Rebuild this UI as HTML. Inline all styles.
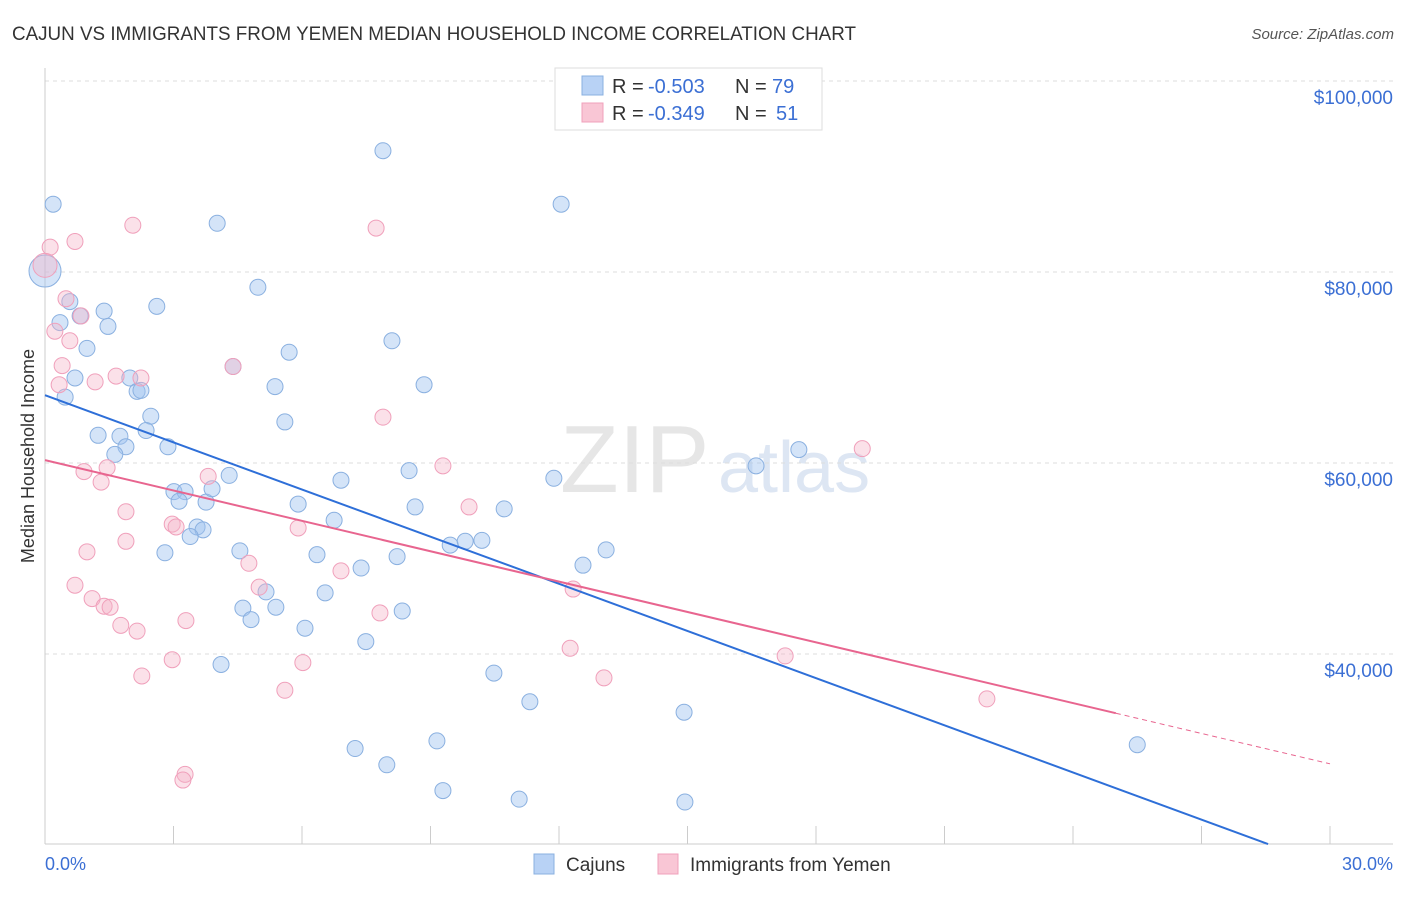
<!DOCTYPE html>
<html><head><meta charset="utf-8"><style>
body{margin:0;background:#fff;font-family:"Liberation Sans",sans-serif;}
svg text{font-family:"Liberation Sans",sans-serif;}
</style></head><body>
<svg id="c" width="1406" height="892" xmlns="http://www.w3.org/2000/svg">
<text x="12" y="40" font-size="19" fill="#333" textLength="844" lengthAdjust="spacingAndGlyphs">CAJUN VS IMMIGRANTS FROM YEMEN MEDIAN HOUSEHOLD INCOME CORRELATION CHART</text>
<text x="1394" y="39" font-size="15" fill="#555" font-style="italic" text-anchor="end">Source: ZipAtlas.com</text>
<text x="0" y="0" transform="translate(34,456) rotate(-90)" font-size="18" fill="#333" text-anchor="middle">Median Household Income</text>
<text x="560" y="492" font-size="96" fill="#e6e6e6" font-family="Liberation Serif">ZIP</text>
<text x="718" y="492" font-size="72" fill="#dde6f3">atlas</text>
<g id="grid"></g><g id="ticks"></g><g id="pts"></g><g id="lines"></g>
<g>
<rect x="555" y="68" width="267" height="62" fill="#fff" stroke="#ddd"/>
<rect x="582" y="76" width="21" height="19" fill="#b8d2f5" stroke="#8ab0e0"/>
<rect x="582" y="103" width="21" height="19" fill="#f9c6d5" stroke="#f0a0bb"/>
<text x="612" y="93" font-size="20" fill="#333">R =</text>
<text x="648" y="93" font-size="20" fill="#3b6fd4">-0.503</text>
<text x="735" y="93" font-size="20" fill="#333">N =</text>
<text x="772" y="93" font-size="20" fill="#3b6fd4">79</text>
<text x="612" y="120" font-size="20" fill="#333">R =</text>
<text x="648" y="120" font-size="20" fill="#3b6fd4">-0.349</text>
<text x="735" y="120" font-size="20" fill="#333">N =</text>
<text x="776" y="120" font-size="20" fill="#3b6fd4">51</text>
</g>
<g>
<rect x="534" y="854" width="20" height="20" fill="#b8d2f5" stroke="#8ab0e0"/>
<text x="566" y="871" font-size="19" fill="#333">Cajuns</text>
<rect x="658" y="854" width="20" height="20" fill="#f9c6d5" stroke="#f0a0bb"/>
<text x="690" y="871" font-size="19" fill="#333">Immigrants from Yemen</text>
</g>
<text x="45" y="870" font-size="18" fill="#3b6fd4">0.0%</text>
<text x="1393" y="870" font-size="18" fill="#3b6fd4" text-anchor="end">30.0%</text>
</svg>
<script>
const yTicks=[40000,60000,80000,100000];
const yTickLabels=["$40,000","$60,000","$80,000","$100,000"];
const xTicks=[0,3,6,9,12,15,18,21,24,27,30];
const cajunX=[0.19,4.02,7.89,12.05,4.97,2.61,0.58,0.35,1.38,1.47,0.82,0.98,5.70,8.10,4.39,0.70,0.47,1.98,2.15,2.24,5.37,8.85,2.47,1.24,1.75,2.36,1.89,1.63,2.87,5.60,17.60,16.60,4.30,6.91,8.50,11.88,3.01,3.27,3.13,3.76,3.90,5.91,8.64,10.72,6.75,3.55,3.69,3.39,9.46,9.81,10.20,13.10,2.80,4.55,6.35,8.22,7.38,12.56,5.16,6.54,4.62,5.39,8.34,4.81,6.07,7.49,4.11,10.48,11.32,14.92,7.24,9.15,7.98,25.50,9.29,11.07,14.94,0];
const cajunY=[87.1,85.1,92.7,87.1,78.4,76.4,76.9,74.7,75.9,74.3,75.4,72.0,71.6,72.8,70.1,68.9,66.9,68.9,67.5,67.6,68.0,68.2,64.9,62.9,62.8,63.4,61.7,60.9,61.7,64.3,61.4,59.7,58.7,58.2,59.2,58.4,57.0,57.0,56.0,55.9,57.3,55.7,55.4,55.2,54.0,53.3,53.0,52.3,51.4,51.8,51.9,50.9,50.6,50.8,50.4,50.2,49.0,49.3,46.5,46.4,44.8,44.9,44.5,43.6,42.7,41.3,38.9,38.0,35.0,33.9,30.1,30.9,28.4,30.5,25.7,24.8,24.5,80.1];
const yemenX=[0.12,0.70,2.05,7.73,0.49,0.23,0.58,0.84,0.40,0.33,1.17,1.66,2.24,4.39,7.89,19.08,9.29,0.91,1.45,1.31,3.81,9.90,1.89,2.97,3.06,5.91,1.89,0.98,4.76,6.91,0.70,5.00,12.33,1.10,1.38,1.52,1.77,2.15,3.29,7.82,12.26,17.28,2.97,6.02,2.26,13.05,5.60,21.99,3.27,3.22,0];
const yemenY=[82.6,83.2,84.9,84.6,77.2,73.8,72.8,75.4,70.2,68.2,68.5,69.1,68.9,70.1,64.8,61.5,59.7,59.1,59.5,58.0,58.6,55.4,54.9,53.6,53.3,53.2,51.8,50.7,49.5,48.7,47.2,47.0,46.8,45.8,45.0,44.9,43.0,42.4,43.5,44.3,40.6,39.8,39.4,39.1,37.7,37.5,36.2,35.3,27.4,26.8,80.7];
const cajunTrend=[67.1,-1.646];
const yemenTrend=[60.3,-1.06];
const X=v=>45+v*1285/30;
const Y=v=>654-(v*1000-40000)*191/20000;
const NS="http://www.w3.org/2000/svg";
function mk(p,t,a){const e=document.createElementNS(NS,t);for(const k in a)e.setAttribute(k,a[k]);document.getElementById(p).appendChild(e);return e;}
yTicks.forEach((t,i)=>{const y=Y(t/1000);
const l=mk('grid','line',{x1:45,x2:1393,y1:y,y2:y,stroke:'#ddd','stroke-dasharray':'4,4'});


const tx=mk('grid','text',{x:1393,y:y+23,'font-size':19,fill:'#3b6fd4','text-anchor':'end'});tx.textContent=yTickLabels[i];

});
const ax=mk('ticks','line',{x1:45,x2:1393,y1:844,y2:844,stroke:'#ccc'});


const ay=mk('ticks','line',{x1:45,x2:45,y1:68,y2:844,stroke:'#ccc'});


xTicks.forEach(t=>{const x=X(t);const l=mk('ticks','line',{x1:x,x2:x,y1:826,y2:844,stroke:'#ccc'});

});
cajunX.forEach((x,i)=>{const big=i===cajunX.length-1;
const c=mk('pts','circle',{cx:X(x),cy:Y(cajunY[i]),r:big?16:8,fill:'rgba(160,195,240,0.45)',stroke:'#8ab0e0','stroke-width':1});

});
yemenX.forEach((x,i)=>{const big=i===yemenX.length-1;
const c=mk('pts','circle',{cx:X(x),cy:Y(yemenY[i]),r:big?12:8,fill:'rgba(245,180,200,0.4)',stroke:'#f0a0bb','stroke-width':1});

});
const xe=(20.1-cajunTrend[0])/cajunTrend[1];
const bl=mk('lines','line',{x1:X(0),y1:Y(cajunTrend[0]),x2:X(xe),y2:Y(cajunTrend[0]+cajunTrend[1]*xe),stroke:'#2e6fd8','stroke-width':2});


const pe=25;
const pl=mk('lines','line',{x1:X(0),y1:Y(yemenTrend[0]),x2:X(pe),y2:Y(yemenTrend[0]+yemenTrend[1]*pe),stroke:'#e8658f','stroke-width':2});


const pd=mk('lines','line',{x1:X(pe),y1:Y(yemenTrend[0]+yemenTrend[1]*pe),x2:X(30),y2:Y(yemenTrend[0]+yemenTrend[1]*30),stroke:'#e8658f','stroke-width':1,'stroke-dasharray':'5,4'});


</script>
</body></html>
